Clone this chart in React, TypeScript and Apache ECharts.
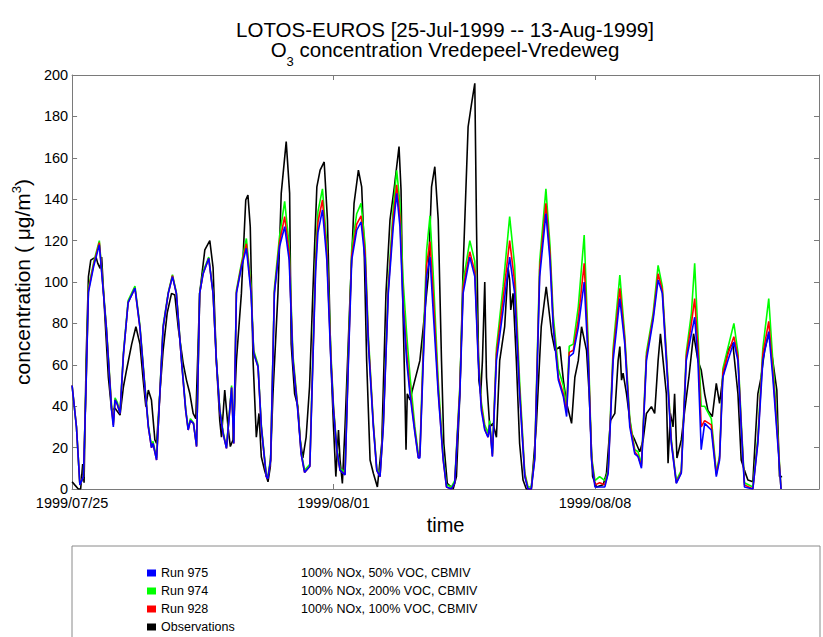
import React, { useEffect, useRef } from "react";
import * as echarts from "echarts";

// hours since 1999-07-25 00:00
const START = Date.UTC(1999, 6, 25);

const modelHours = [
  0, 2.8, 5, 7.3, 9, 10.5, 14, 17.5, 22, 25.4,
  26.5, 27.6, 29, 30.8, 33, 36, 40.4, 43.6, 46.8, 49,
  51, 52, 54.3, 56.4, 58.5, 61.8, 64.5, 67, 70.3, 73,
  74.6, 76, 78, 80, 82, 84.2, 87.8, 90.6, 92.7, 94.9,
  97, 99.2, 101.3, 102.5, 103.9, 105.6, 108.8, 112, 115, 116.7,
  119.5, 121.6, 124.8, 125.8, 127.6, 130, 133.3, 136.6, 139.5, 141.9,
  145, 147.2, 149.4, 152.8, 154.7, 156.5, 158, 160.9, 163.7, 166.3,
  168, 170.1, 172.2, 175.4, 177.6, 179.7, 182.9, 185.7, 188.3, 190.4,
  193.6, 195.8, 197.9, 200, 203.2, 206.4, 208.6, 210.7, 212.8, 215,
  217.1, 220.3, 222.5, 223.5, 225.7, 227.8, 230, 232, 235.3, 238.5,
  240.6, 243.8, 245.9, 249.2, 251.3, 255.6, 258.8, 261, 263, 265.2,
  267.3, 268.4, 270.1, 272.7, 277, 281.2, 284.4, 287.6, 290.9, 293,
  295.1, 297.3, 300.5, 304.5, 307.1, 309.2, 312.5, 315.7, 317.8, 319.5,
  322.1, 325.3, 329.1, 331.7, 333.8, 336, 339, 342.4, 344.5, 347.7,
  352, 355.2, 358.4, 361.6, 363.7, 365.9, 369.1, 373.4, 376.6, 379.3,
  381.9, 385.1, 388.3, 391.5, 394.7, 398, 400.1, 402.2, 404.3, 406.5,
  410.8, 414, 416.1, 418.2, 421.4, 425.3, 427.9, 430, 432.1, 437.5,
  440.7, 443.9, 447.7, 450.3, 453.5, 455.6,
];

const run975 = [
  50, 30, 2, 6, 50, 95, 108, 118, 78, 38,
  30, 43, 41, 36.5, 65, 90, 97, 78, 49, 30,
  20, 22, 14, 46, 78, 94.5, 102.6, 94.5, 62, 38,
  28.5, 33, 31.7, 20.5, 94.5, 104, 111.4, 94.5, 62, 38,
  27, 19.6, 38, 49, 22, 94.5, 107, 116.3, 94.5, 65.5,
  59, 30, 6, 5, 14, 94.5, 117, 126.7, 110.6, 62,
  38, 17, 8, 11, 60, 105, 124, 134.8, 110.6, 62,
  38, 19, 9, 6.8, 62, 110.6, 125, 129, 110.6, 70,
  30, 9, 6, 30, 94.5, 126.7, 142.8, 126.7, 86.5, 62,
  46, 27, 15, 15, 62, 102.6, 112, 86.5, 46, 14,
  1, 0, 3, 46, 94.5, 112, 102.6, 62, 38, 28.5,
  25, 31, 15.6, 62, 86.5, 112, 94.5, 46, 6, 0,
  0, 14, 102.6, 133, 110.6, 78, 52.6, 44.6, 35, 64,
  65.5, 78, 100, 62, 14, 1, 1, 1, 7.6, 62,
  92, 70, 30, 17, 15.6, 10, 62, 81.6, 101, 94.5,
  62, 22, 2.7, 7.6, 62, 75, 83, 62, 19, 31.7,
  28.5, 6, 14, 54, 62, 71, 62, 30, 1, 0,
  22, 62, 76, 54, 22, 0,
];

const run974 = [
  50, 30, 2, 6, 52, 97, 110, 120, 79, 40,
  32, 44, 42, 37, 66, 91, 98, 79, 50, 31,
  21, 23, 15, 47, 79, 95, 103.5, 95, 63, 39,
  29, 34, 32, 21, 95, 105, 112, 95, 63, 39,
  28, 20, 39, 50, 23, 96, 109, 121, 98, 67,
  60, 31, 7, 6, 15, 97, 122, 139, 118, 65,
  40, 18, 9, 12, 65, 112, 134, 145, 118, 66,
  40, 20, 10, 8, 66, 116, 133, 138, 118, 74,
  32, 10, 7, 32, 98, 136, 154, 138, 100, 75,
  55, 30, 17, 17, 70, 115, 132, 105, 52, 16,
  2, 1, 4, 50, 100, 120, 110, 66, 42, 31,
  27, 33, 17, 68, 98, 131.6, 108, 52, 8, 1,
  1, 16, 110, 145, 118, 84, 58, 50, 40, 69,
  70, 88, 122.7, 70, 16, 4, 6, 4, 9, 68,
  103.4, 74, 34, 19, 18, 12, 66, 85, 108, 98,
  66, 24, 4, 9, 66, 85, 109, 75, 40, 40,
  34, 8, 16, 58, 68, 80, 66, 33, 3, 1,
  25, 68, 92, 62, 26, 0,
];

const run928 = [
  50, 30, 2, 6, 51, 96, 109, 119, 78, 39,
  31, 43, 41, 36.5, 65, 90, 97, 78, 49, 30,
  20, 22, 14, 46, 78, 94.5, 103, 94.5, 62, 38,
  28.5, 33, 31.7, 20.5, 94.5, 104, 111.5, 94.5, 62, 38,
  27, 19.6, 38, 49, 22, 95, 108, 118.5, 96, 66,
  59, 30, 6, 5, 14, 95, 119, 131.6, 114, 63,
  39, 17, 8, 11, 62, 108, 129, 139.6, 114, 64,
  39, 19, 9, 7, 64, 113, 128, 132, 114, 72,
  31, 9, 6, 31, 96, 131, 147, 131, 90, 66,
  48, 28, 15, 16, 65, 108, 119.5, 95, 48, 14,
  1, 0, 3, 48, 97, 114.6, 105, 64, 40, 29,
  25, 31, 16, 65, 92, 120, 100, 48, 7, 0,
  0, 15, 106, 138, 114, 80, 54, 46, 37, 66,
  67, 82, 109, 66, 15, 2, 3, 2, 8, 65,
  97, 72, 32, 18, 16, 11, 64, 83, 104, 96,
  64, 23, 3, 8, 64, 80, 92, 68, 30, 33,
  31, 7, 15, 56, 65, 73.6, 64, 31, 2, 0,
  23, 65, 81, 57, 24, 0,
];

// [hour, value]
const observations: [number, number][] = [
  [0, 3.5], [1.7, 2], [4, 0], [5.5, 0], [6.8, 12], [7.7, 3], [9, 62], [10.5, 102.6], [12, 110.6], [13.7, 111.4],
  [15.4, 112], [16.5, 109], [18, 106.6], [19, 112], [21.2, 81.6], [23.3, 54], [25.4, 38], [27.6, 39], [30.8, 35.7], [33, 49.4],
  [35, 57.5], [38.3, 70], [41, 78.4], [43.6, 70], [45.7, 52.6], [47.4, 39.8], [49, 47.8], [51, 43], [53.2, 23.7], [54.3, 22],
  [56.4, 46], [58.5, 67], [61.1, 85], [63.9, 94.5], [66, 93.7], [68.2, 78], [71.4, 60.7], [73.5, 52.6], [75.7, 46], [77.8, 36.5],
  [79.5, 34], [82, 94.5], [85.3, 115.5], [88.5, 120], [90.6, 107], [92.7, 62], [94.9, 33], [96, 25], [98.1, 47.8], [100.2, 30],
  [101.7, 20.5], [103.4, 23.7], [105.6, 62], [108.8, 94.5], [111.6, 139.6], [113, 142], [114.5, 126.7], [116.3, 62], [118.4, 25], [120.1, 36.5],
  [121.6, 15.6], [123.7, 9], [125.9, 3.5], [127.4, 10.8], [129.1, 46], [132.3, 94.5], [134.4, 142.8], [137.6, 167.8], [139.8, 142.8], [140.8, 70],
  [143, 46], [145.1, 39.8], [146.6, 23.7], [148.3, 15], [150.4, 25], [152.6, 49.4], [154.7, 94.5], [157.3, 146], [159.4, 154], [162, 158],
  [164.1, 130], [166.3, 62], [168, 30], [169.5, 6], [171.2, 28.5], [172.2, 14], [173.7, 2.7], [175.4, 30], [178.7, 94.5], [181.2, 138],
  [184, 154], [186.1, 146], [187.6, 118.7], [189.3, 62], [191.5, 14], [193.6, 7.6], [196.2, 1], [199, 22], [201.7, 94.5], [204.3, 130],
  [207.1, 146], [210.1, 165.4], [211.4, 144.4], [212.4, 94.5], [213.9, 46], [214.6, 19], [215.4, 46], [217.1, 43], [220.3, 52.6], [223.5, 62],
  [225.7, 78.4], [228.9, 102.6], [231, 146], [233.1, 155.7], [235.3, 130], [237.4, 62], [238.9, 22], [241.1, 2.7], [244.9, 0], [247, 6],
  [249.2, 46], [251.3, 107], [254.5, 175], [256.7, 186], [258.8, 196], [259.9, 126.7], [261.4, 52.6], [262.6, 46], [263.7, 62], [265.2, 100],
  [266.3, 54], [268.4, 30], [270.5, 31.7], [272.7, 25], [274.8, 62], [278, 78.4], [280.2, 107], [281.2, 101], [281.9, 86.5], [283.4, 94.5],
  [285.5, 62], [287.6, 22], [289.8, 4.3], [291.9, 0], [295.1, 0], [298.3, 30], [301.5, 78.4], [304.7, 97.7], [308.2, 75], [310.3, 67],
  [313.5, 68.8], [315.7, 52.6], [317.8, 41.4], [321, 31.7], [323.1, 54], [325.3, 62], [327.4, 78.4], [330.6, 67], [332.3, 46], [334.5, 6],
  [337, 1], [341.3, 2], [343.4, 7.6], [346, 33], [348.8, 36.5], [350.9, 62], [352, 68.8], [353.1, 52.6], [354.1, 56], [356.3, 46],
  [359.5, 27], [361.6, 23.7], [364.8, 18], [367, 23.7], [369.1, 36.5], [372.3, 39.8], [374.4, 36.5], [376.6, 62], [378.1, 75], [379.8, 62],
  [381.9, 46], [383, 12.4], [384.5, 36.5], [386.2, 30], [387.2, 46], [388.7, 15], [391.5, 23.7], [393.7, 38], [396.4, 54], [399.4, 75],
  [402.2, 62], [404.3, 57.5], [406.5, 46], [408.6, 38], [411.4, 35], [414, 51], [416.1, 41.4], [418.2, 54], [421.4, 67], [424.6, 70.4],
  [427.9, 46], [430, 14], [432.1, 9], [434.3, 4.3], [437.5, 3.5], [440.7, 46], [442.8, 54], [445, 67], [447.7, 75], [450.3, 62],
  [452.9, 47.8], [454.6, 6], [456.3, 6],
];

const legendNames = ["Run 975", "Run 974", "Run 928", "Observations"];
const legendDescriptions: Record<string, string> = {
  "Run 975": "100% NOx, 50% VOC, CBMIV",
  "Run 974": "100% NOx, 200% VOC, CBMIV",
  "Run 928": "100% NOx, 100% VOC, CBMIV",
  Observations: "",
};

const FONT = "'Liberation Sans', Arial, Helvetica, sans-serif";

function pad(n: number) {
  return n < 10 ? "0" + n : "" + n;
}
function hourLabel(h: number) {
  const d = new Date(START + h * 3600 * 1000);
  return `${d.getUTCFullYear()}/${pad(d.getUTCMonth() + 1)}/${pad(d.getUTCDate())}`;
}

export default function App() {
  const ref = useRef<HTMLDivElement>(null);
  useEffect(() => {
    if (!ref.current) return;
    const chart = echarts.init(ref.current, undefined, { renderer: "svg" });
    const toPairs = (vals: number[]) => modelHours.map((h, i) => [h, vals[i]]);
    const axisColor = "#7a7a7a";
    const lineW = 1.6;
    const option: any = {
      animation: false,
      textStyle: { fontFamily: FONT },
      title: {
        text:
          "{a|LOTOS-EUROS [25-Jul-1999 -- 13-Aug-1999]}\n{a|O}{s|3}{a| concentration Vredepeel-Vredeweg}",
        left: 445,
        top: 19,
        textAlign: "center",
        padding: 0,
        textStyle: {
          fontSize: 20.5,
          fontWeight: "normal",
          color: "#000",
          fontFamily: FONT,
          rich: {
            a: { fontSize: 20.5, lineHeight: 20, verticalAlign: "top", color: "#000", fontFamily: FONT },
            s: { fontSize: 13, lineHeight: 12, verticalAlign: "top", padding: [16, 0, 0, 0], color: "#000", fontFamily: FONT },
          },
        },
      },
      grid: { left: 72, top: 75, right: 4, bottom: 148, containLabel: false },
      legend: {
        orient: "vertical",
        left: 147,
        top: 566,
        height: 71,
        padding: 0,
        itemWidth: 9,
        itemHeight: 7,
        itemGap: 4,
        icon: "rect",
        data: legendNames,
        textStyle: {
          fontSize: 12.5,
          lineHeight: 14,
          color: "#000",
          fontFamily: FONT,
          rich: {
            n: { width: 140, fontSize: 12.5, lineHeight: 14, color: "#000", fontFamily: FONT },
            d: { fontSize: 12.5, lineHeight: 14, color: "#000", fontFamily: FONT },
          },
        },
        formatter: (name: string) =>
          legendDescriptions[name] ? `{n|${name}}{d|${legendDescriptions[name]}}` : `{n|${name}}`,
      },
      graphic: [
        {
          type: "rect",
          shape: { x: 72, y: 546, width: 748, height: 120 },
          style: { fill: "none", stroke: "#8a8a8a", lineWidth: 1 },
          silent: true,
        },
      ],
      xAxis: [
        {
          type: "value",
          min: 0,
          max: 480,
          interval: 168,
          position: "bottom",
          axisLine: { show: true, onZero: false, lineStyle: { color: axisColor } },
          axisTick: { show: true, inside: true, length: 5, lineStyle: { color: axisColor } },
          axisLabel: {
            color: "#000",
            fontSize: 14.5,
            lineHeight: 14,
            margin: 7,
            showMaxLabel: false,
            showMinLabel: true,
            formatter: (v: number) => hourLabel(v),
          },
          splitLine: { show: false },
          name: "time",
          nameLocation: "middle",
          nameGap: 25,
          nameTextStyle: { fontSize: 20, color: "#000", fontFamily: FONT },
        },
        {
          type: "value",
          min: 0,
          max: 480,
          interval: 168,
          position: "top",
          axisLine: { show: true, onZero: false, lineStyle: { color: axisColor } },
          axisTick: { show: true, inside: true, length: 5, lineStyle: { color: axisColor } },
          axisLabel: { show: false },
          splitLine: { show: false },
        },
      ],
      yAxis: [
        {
          type: "value",
          min: 0,
          max: 200,
          interval: 20,
          position: "left",
          axisLine: { show: true, onZero: false, lineStyle: { color: axisColor } },
          axisTick: { show: true, inside: true, length: 5, lineStyle: { color: axisColor } },
          axisLabel: { color: "#000", fontSize: 14.5, lineHeight: 13, margin: 4 },
          splitLine: { show: false },
          name: "{a|concentration ( μg/m}{sup|3}{a|)}",
          nameLocation: "middle",
          nameGap: 38,
          nameRotate: 90,
          nameTextStyle: {
            fontSize: 21,
            color: "#000",
            fontFamily: FONT,
            rich: {
              a: { fontSize: 21, lineHeight: 22, padding: [4, 0, 0, 0], color: "#000", fontFamily: FONT },
              sup: { fontSize: 13, lineHeight: 14, verticalAlign: "top", color: "#000", fontFamily: FONT },
            },
          },
        },
        {
          type: "value",
          min: 0,
          max: 200,
          interval: 20,
          position: "right",
          axisLine: { show: true, onZero: false, lineStyle: { color: axisColor } },
          axisTick: { show: true, inside: true, length: 5, lineStyle: { color: axisColor } },
          axisLabel: { show: false },
          splitLine: { show: false },
        },
      ],
      series: [
        {
          name: "Observations",
          type: "line",
          data: observations,
          showSymbol: false,
          symbol: "none",
          lineStyle: { color: "#000000", width: lineW },
          itemStyle: { color: "#000000" },
          z: 2,
        },
        {
          name: "Run 974",
          type: "line",
          data: toPairs(run974),
          showSymbol: false,
          symbol: "none",
          lineStyle: { color: "#00ff00", width: lineW },
          itemStyle: { color: "#00ff00" },
          z: 3,
        },
        {
          name: "Run 928",
          type: "line",
          data: toPairs(run928),
          showSymbol: false,
          symbol: "none",
          lineStyle: { color: "#ff0000", width: lineW },
          itemStyle: { color: "#ff0000" },
          z: 4,
        },
        {
          name: "Run 975",
          type: "line",
          data: toPairs(run975),
          showSymbol: false,
          symbol: "none",
          lineStyle: { color: "#0000ff", width: lineW },
          itemStyle: { color: "#0000ff" },
          z: 5,
        },
      ],
    };
    chart.setOption(option);
    return () => chart.dispose();
  }, []);
  return (
    <div
      ref={ref}
      style={{ position: "fixed", left: 0, top: 0, width: 823, height: 637, background: "#fff" }}
    />
  );
}
